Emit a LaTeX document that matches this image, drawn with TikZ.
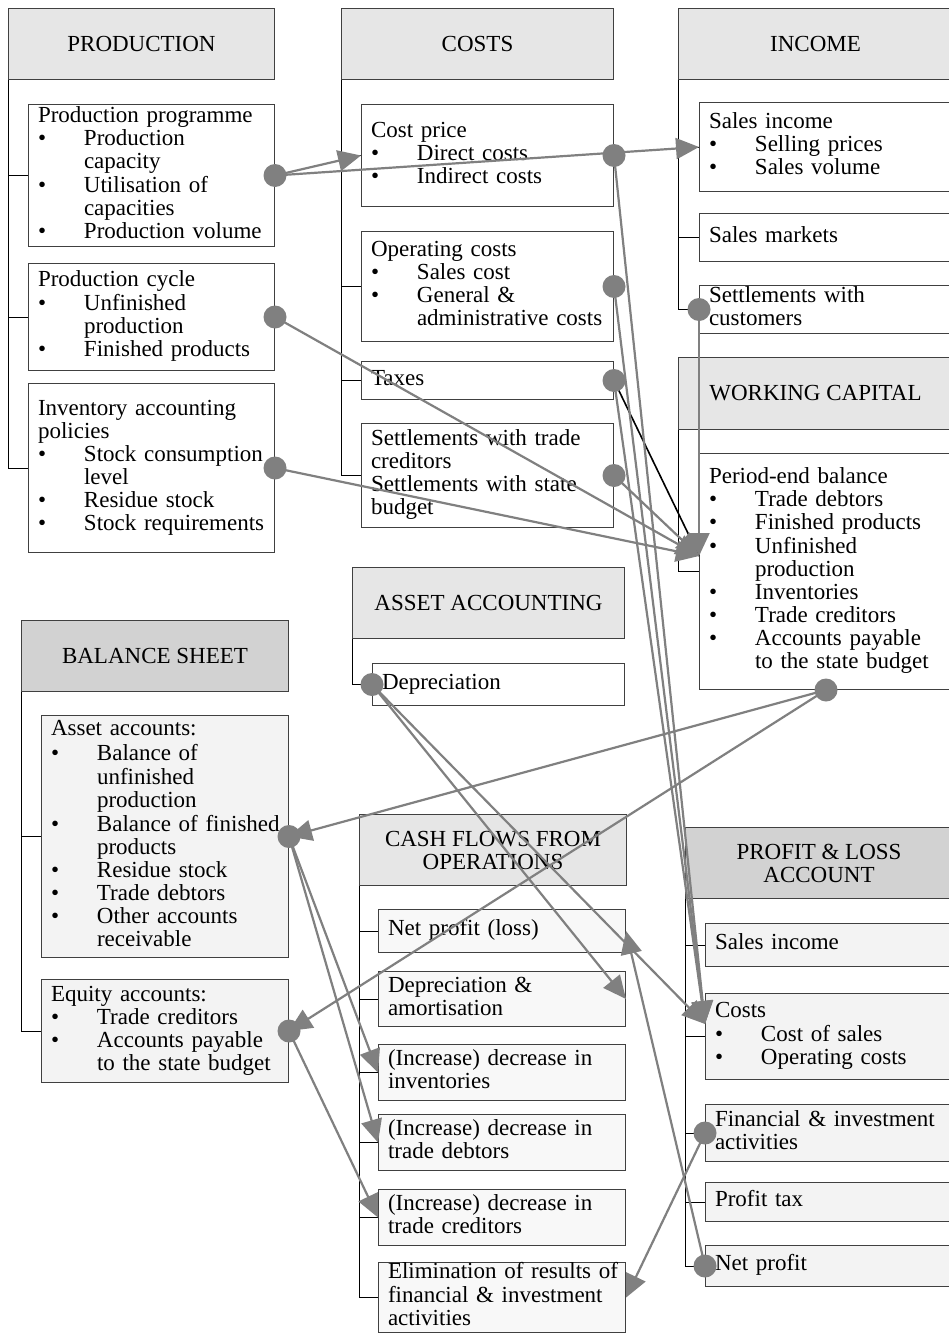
\documentclass[tikz,border=0pt]{standalone}
\usepackage{fontspec}
\setmainfont{Liberation Serif}
\usetikzlibrary{arrows.meta}
\definecolor{hdrA}{HTML}{E6E6E6}
\definecolor{hdrB}{HTML}{D2D2D2}
\definecolor{boxB}{HTML}{F3F3F3}
\definecolor{boxC}{HTML}{F8F8F8}
\definecolor{linkc}{HTML}{808080}
\definecolor{edgec}{HTML}{404040}
\newcommand{\lineA}[1]{\mbox{\strut#1}}
\newcommand{\bulA}[1]{\mbox{\strut\makebox[46pt][l]{\textbullet}#1}}
\newcommand{\contA}[1]{\mbox{\strut\hspace*{46pt}#1}}
\tikzset{
  boxbase/.style={draw=edgec, line width=1pt, anchor=north west, font=\fontsize{23}{23}\selectfont},
  hdr/.style={boxbase, fill=hdrA, inner sep=0pt, align=center},
  hdrd/.style={hdr, fill=hdrB},
  boxw/.style={boxbase, fill=white, inner xsep=9.5pt, inner ysep=0pt, align=left},
  boxg/.style={boxw, fill=boxB},
  boxc/.style={boxw, fill=boxC},
  wa/.style={minimum width=246pt, text width=227pt},
  wb/.style={minimum width=252pt, text width=233pt},
  wc/.style={minimum width=253pt, text width=234pt},
  wd/.style={minimum width=247pt, text width=228pt},
  brk/.style={draw=black, line width=1pt},
  conn/.style={draw=linkc, line width=2.2pt, -{Triangle[length=23pt,width=21pt]}},
  blk/.style={draw=black, line width=1.6pt},
  jdot/.style={circle, fill=linkc, minimum size=23pt, inner sep=0pt},
}
\begin{document}
\begin{tikzpicture}[x=1pt,y=-1pt]
\useasboundingbox (0,0) rectangle (948,1333);
\fill[white] (0,0) rectangle (948,1333);

% ---------- PRODUCTION
\node[hdr, minimum width=266pt, minimum height=71pt] (prodh) at (8,8) {PRODUCTION};
\node[boxw, wa, minimum height=142pt] (pp) at (28,104) {\lineA{Production programme}\\\bulA{Production}\\\contA{capacity}\\\bulA{Utilisation of}\\\contA{capacities}\\\bulA{Production volume}};
\node[boxw, wa, minimum height=107pt] (pc) at (28,263) {\lineA{Production cycle}\\\bulA{Unfinished}\\\contA{production}\\\bulA{Finished products}};
\node[boxw, wa, minimum height=169pt] (inv) at (28,383) {\lineA{Inventory accounting}\\\lineA{policies}\\\bulA{Stock consumption}\\\contA{level}\\\bulA{Residue stock}\\\bulA{Stock requirements}};
\draw[brk] (prodh.south west) |- (pp.west);
\draw[brk] (prodh.south west) |- (pc.west);
\draw[brk] (prodh.south west) |- (inv.west);

% ---------- COSTS
\node[hdr, minimum width=272pt, minimum height=71pt] (costh) at (341,8) {COSTS};
\node[boxw, wb, minimum height=102pt] (cp) at (361,104) {\lineA{Cost price}\\\bulA{Direct costs}\\\bulA{Indirect costs}};
\node[boxw, wb, minimum height=110pt] (op) at (361,231) {\lineA{Operating costs}\\\bulA{Sales cost}\\\bulA{General \&}\\\contA{administrative costs}};
\node[boxw, wb, minimum height=38pt] (taxes) at (361,361) {\lineA{Taxes}};
\node[boxw, wb, minimum height=104pt] (settl) at (361,423) {\lineA{Settlements with trade}\\\lineA{creditors}\\\lineA{Settlements with state}\\\lineA{budget}};
\draw[brk] (costh.south west) |- (cp.west);
\draw[brk] (costh.south west) |- (op.west);
\draw[brk] (costh.south west) |- (taxes.west);
\draw[brk] (costh.south west) |- (settl.west);

% ---------- INCOME
\node[hdr, minimum width=274pt, minimum height=71pt] (inch) at (678,8) {INCOME};
\node[boxw, wc, minimum height=89pt] (si) at (699,102) {\lineA{Sales income}\\\bulA{Selling prices}\\\bulA{Sales volume}};
\node[boxw, wc, minimum height=48pt] (sm) at (699,213) {\lineA{Sales markets}};
\node[boxw, wc, minimum height=48pt] (swc) at (699,285) {\lineA{Settlements with}\\\lineA{customers}};
\draw[brk] (inch.south west) |- (si.west);
\draw[brk] (inch.south west) |- (sm.west);
\draw[brk] (inch.south west) |- (swc.west);

% ---------- WORKING CAPITAL
\node[hdr, minimum width=274pt, minimum height=72pt] (wch) at (678,357) {WORKING CAPITAL};
\node[boxw, wc, minimum height=236pt] (wcb) at (699,453) {\lineA{Period-end balance}\\\bulA{Trade debtors}\\\bulA{Finished products}\\\bulA{Unfinished}\\\contA{production}\\\bulA{Inventories}\\\bulA{Trade creditors}\\\bulA{Accounts payable}\\\contA{to the state budget}};
\draw[brk] (wch.south west) |- (wcb.west);

% ---------- ASSET ACCOUNTING
\node[hdr, minimum width=272pt, minimum height=71pt] (aah) at (352,567) {ASSET ACCOUNTING};
\node[boxw, wb, minimum height=42pt] (dep) at (372,663) {\lineA{Depreciation}};
\draw[brk] (aah.south west) |- (dep.west);

% ---------- BALANCE SHEET
\node[hdrd, minimum width=267pt, minimum height=71pt] (bsh) at (21,620) {BALANCE SHEET};
\node[boxg, wd, minimum height=242pt] (asset) at (41,715) {\lineA{Asset accounts:}\\\bulA{Balance of}\\\contA{unfinished}\\\contA{production}\\\bulA{Balance of finished}\\\contA{products}\\\bulA{Residue stock}\\\bulA{Trade debtors}\\\bulA{Other accounts}\\\contA{receivable}};
\node[boxg, wd, minimum height=103pt] (equity) at (41,979) {\lineA{Equity accounts:}\\\bulA{Trade creditors}\\\bulA{Accounts payable}\\\contA{to the state budget}};
\draw[brk] (bsh.south west) |- (asset.west);
\draw[brk] (bsh.south west) |- (equity.west);

% ---------- CASH FLOWS
\node[hdr, minimum width=267pt, minimum height=71pt] (cfh) at (359,814) {CASH FLOWS FROM\\OPERATIONS};
\node[boxc, wd, minimum height=43pt] (npl) at (378,909) {\lineA{Net profit (loss)}};
\node[boxc, wd, minimum height=55pt] (da) at (378,971) {\lineA{Depreciation \&}\\\lineA{amortisation}};
\node[boxc, wd, minimum height=56pt] (cinv) at (378,1044) {\lineA{(Increase) decrease in}\\\lineA{inventories}};
\node[boxc, wd, minimum height=56pt] (cdeb) at (378,1114) {\lineA{(Increase) decrease in}\\\lineA{trade debtors}};
\node[boxc, wd, minimum height=56pt] (ccred) at (378,1189) {\lineA{(Increase) decrease in}\\\lineA{trade creditors}};
\node[boxc, wd, minimum height=70pt] (elim) at (378,1262) {\lineA{Elimination of results of}\\\lineA{financial \& investment}\\\lineA{activities}};
\foreach \b in {npl,da,cinv,cdeb,ccred,elim} \draw[brk] (cfh.south west) |- (\b.west);

% ---------- PROFIT & LOSS
\node[hdrd, minimum width=267pt, minimum height=71pt] (plh) at (685,827) {PROFIT \& LOSS\\ACCOUNT};
\node[boxg, wd, minimum height=43pt] (plsi) at (705,923) {\lineA{Sales income}};
\node[boxg, wd, minimum height=86pt] (plc) at (705,993) {\lineA{Costs}\\\bulA{Cost of sales}\\\bulA{Operating costs}};
\node[boxg, wd, minimum height=57pt] (fin) at (705,1104) {\lineA{Financial \& investment}\\\lineA{activities}};
\node[boxg, wd, minimum height=39pt] (ptax) at (705,1182) {\lineA{Profit tax}};
\node[boxg, wd, minimum height=41pt] (np) at (705,1245) {\lineA{Net profit}};
\foreach \b in {plsi,plc,fin,ptax,np} \draw[brk] (plh.south west) |- (\b.west);

% ---------- connector targets
\coordinate (wct) at (699,556);
\coordinate (plct) at (705,1024);

% ---------- connectors
\draw[blk] (taxes.east) -- (wct);
\draw[conn] (pp.east) -- (cp.west);
\draw[conn] (pp.east) -- (si.west);
\draw[conn] (pc.east) -- (wct);
\draw[conn] (inv.east) -- (wct);
\draw[conn] (settl.east) -- (wct);
\draw[conn] (swc.west) -- (wct);
\draw[conn] (cp.east) -- (plct);
\draw[conn] (op.east) -- (plct);
\draw[conn] (taxes.east) -- (plct);
\draw[conn] (dep.west) -- (da.east);
\draw[conn] (dep.west) -- (plct);
\draw[conn] (wcb.south) -- (asset.east);
\draw[conn] (wcb.south) -- (equity.east);
\draw[conn] (asset.east) -- (cinv.west);
\draw[conn] (asset.east) -- (cdeb.west);
\draw[conn] (equity.east) -- (ccred.west);
\draw[conn] (fin.west) -- (elim.east);
\draw[conn] (np.west) -- (npl.east);

% ---------- dots
\node[jdot] (dpp) at (pp.east) {};
\node[jdot] (dpc) at (pc.east) {};
\node[jdot] (dinv) at (inv.east) {};
\node[jdot] (dcp) at (cp.east) {};
\node[jdot] (dop) at (op.east) {};
\node[jdot] (dtax) at (taxes.east) {};
\node[jdot] (dsettl) at (settl.east) {};
\node[jdot] (dswc) at (swc.west) {};
\node[jdot] (dwc) at (wcb.south) {};
\node[jdot] (dasset) at (asset.east) {};
\node[jdot] (dequity) at (equity.east) {};
\node[jdot] (ddep) at (dep.west) {};
\node[jdot] (dfin) at (fin.west) {};
\node[jdot] (dnp) at (np.west) {};
\end{tikzpicture}
\end{document}
